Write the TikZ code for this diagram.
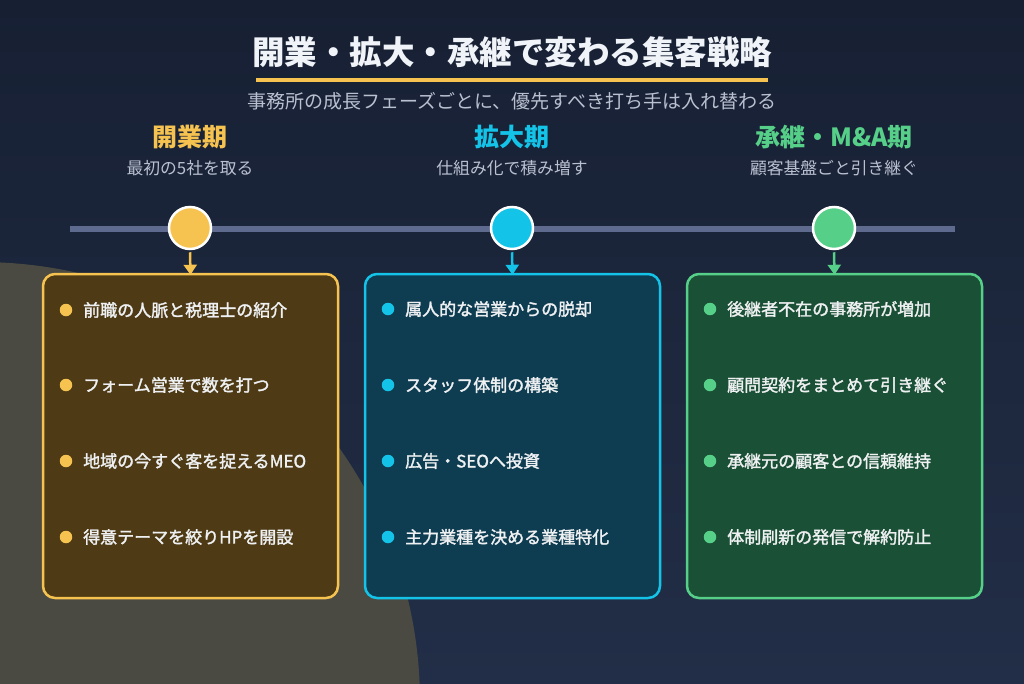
\documentclass[tikz,border=0pt]{standalone}
\usepackage{fontspec}
\usetikzlibrary{arrows.meta}
\newfontfamily\jp{Noto Sans CJK JP}
\newfontfamily\jpmed[FakeBold=1.8]{Noto Sans CJK JP}
\definecolor{bgtop}{HTML}{172033}
\definecolor{bgbot}{HTML}{222E47}
\definecolor{blobc}{HTML}{4B4A42}
\definecolor{goldc}{HTML}{F6C350}
\definecolor{cyanc}{HTML}{14C4E8}
\definecolor{greenc}{HTML}{56CF88}
\definecolor{goldbox}{HTML}{4E3B15}
\definecolor{cyanbox}{HTML}{0E3D52}
\definecolor{greenbox}{HTML}{1A5035}
\definecolor{linec}{HTML}{5E6B8F}
\definecolor{titlec}{HTML}{F0F3F8}
\definecolor{subc}{HTML}{B9C1D1}
\definecolor{itemc}{HTML}{EEF0F2}
\tikzset{
  titletext/.style={font=\jp\bfseries\fontsize{32.5}{38}\selectfont, text=titlec, inner sep=0pt},
  subtext/.style={font=\jp\fontsize{19}{23}\selectfont, text=subc, inner sep=0pt},
  headtext/.style={font=\jp\bfseries\fontsize{25}{29}\selectfont, inner sep=0pt},
  headsub/.style={font=\jp\fontsize{16.8}{20}\selectfont, text=subc, inner sep=0pt},
  dotnode/.style={circle, draw=white, line width=2.5pt, minimum size=42pt, inner sep=0pt},
  phasebox/.style={rectangle, rounded corners=12pt, line width=2.5pt, minimum width=295pt, minimum height=324pt, inner sep=0pt},
  bullet/.style={circle, minimum size=12.5pt, inner sep=0pt},
  itemtext/.style={font=\jpmed\fontsize{17}{20}\selectfont, text=itemc, inner sep=0pt, anchor=west},
  downarrow/.style={line width=2.5pt, -{Triangle[width=13pt,length=10pt]}}
}
\begin{document}
\begin{tikzpicture}[x=1pt,y=-1pt]
\useasboundingbox (0,0) rectangle (1024,683);
\shade[top color=bgtop, bottom color=bgbot] (0,0) rectangle (1024,683);
\begin{scope}
  \clip (0,0) rectangle (1024,683);
  \fill[blobc] (-20,702) circle[radius=440];
\end{scope}

% title
\node[titletext] (title) at (512,52) {開業・拡大・承継で変わる集客戦略};
\draw[goldc, line width=4pt] (256,80) -- (768,80);
\node[subtext] (subtitle) at (512,101) {事務所の成長フェーズごとに、優先すべき打ち手は入れ替わる};

% timeline
\coordinate (tl1) at (70,229);
\coordinate (tl2) at (955,229);
\draw[linec, line width=6pt] (tl1) -- (tl2);

% headers
\node[headtext, text=goldc] (h1) at (190,137) {開業期};
\node[headsub] (s1) at (190,168) {最初の5社を取る};
\node[headtext, text=cyanc] (h2) at (512,137) {拡大期};
\node[headsub] (s2) at (512,168) {仕組み化で積み増す};
\node[headtext, text=greenc] (h3) at (834,137) {承継・M\&A期};
\node[headsub] (s3) at (834,168) {顧客基盤ごと引き継ぐ};

% circles
\node[dotnode, fill=goldc] (c1) at (190,228) {};
\node[dotnode, fill=cyanc] (c2) at (512,228) {};
\node[dotnode, fill=greenc] (c3) at (834,228) {};

% boxes
\node[phasebox, draw=goldc, fill=goldbox] (b1) at (190.5,436) {};
\node[phasebox, draw=cyanc, fill=cyanbox] (b2) at (512.5,436) {};
\node[phasebox, draw=greenc, fill=greenbox] (b3) at (834.5,436) {};

% arrows
\draw[downarrow, goldc] ([yshift=-2pt]c1.south) -- ([yshift=-2pt]b1.north);
\draw[downarrow, cyanc] ([yshift=-2pt]c2.south) -- ([yshift=-2pt]b2.north);
\draw[downarrow, greenc] ([yshift=-2pt]c3.south) -- ([yshift=-2pt]b3.north);

% items column 1
\node[bullet, fill=goldc] (d11) at (66,310) {};
\node[itemtext] (t11) at (83,310) {前職の人脈と税理士の紹介};
\node[bullet, fill=goldc] (d12) at (66,385) {};
\node[itemtext] (t12) at (83,385) {フォーム営業で数を打つ};
\node[bullet, fill=goldc] (d13) at (66,461) {};
\node[itemtext] (t13) at (83,461) {地域の今すぐ客を捉えるMEO};
\node[bullet, fill=goldc] (d14) at (66,537) {};
\node[itemtext] (t14) at (83,537) {得意テーマを絞りHPを開設};

% items column 2
\node[bullet, fill=cyanc] (d21) at (388,309) {};
\node[itemtext] (t21) at (405,309) {属人的な営業からの脱却};
\node[bullet, fill=cyanc] (d22) at (388,385) {};
\node[itemtext] (t22) at (405,385) {スタッフ体制の構築};
\node[bullet, fill=cyanc] (d23) at (388,461) {};
\node[itemtext] (t23) at (405,461) {広告・SEOへ投資};
\node[bullet, fill=cyanc] (d24) at (388,537) {};
\node[itemtext] (t24) at (405,537) {主力業種を決める業種特化};

% items column 3
\node[bullet, fill=greenc] (d31) at (710,309) {};
\node[itemtext] (t31) at (727,309) {後継者不在の事務所が増加};
\node[bullet, fill=greenc] (d32) at (710,385) {};
\node[itemtext] (t32) at (727,385) {顧問契約をまとめて引き継ぐ};
\node[bullet, fill=greenc] (d33) at (710,461) {};
\node[itemtext] (t33) at (727,461) {承継元の顧客との信頼維持};
\node[bullet, fill=greenc] (d34) at (710,537) {};
\node[itemtext] (t34) at (727,537) {体制刷新の発信で解約防止};
\end{tikzpicture}
\end{document}
